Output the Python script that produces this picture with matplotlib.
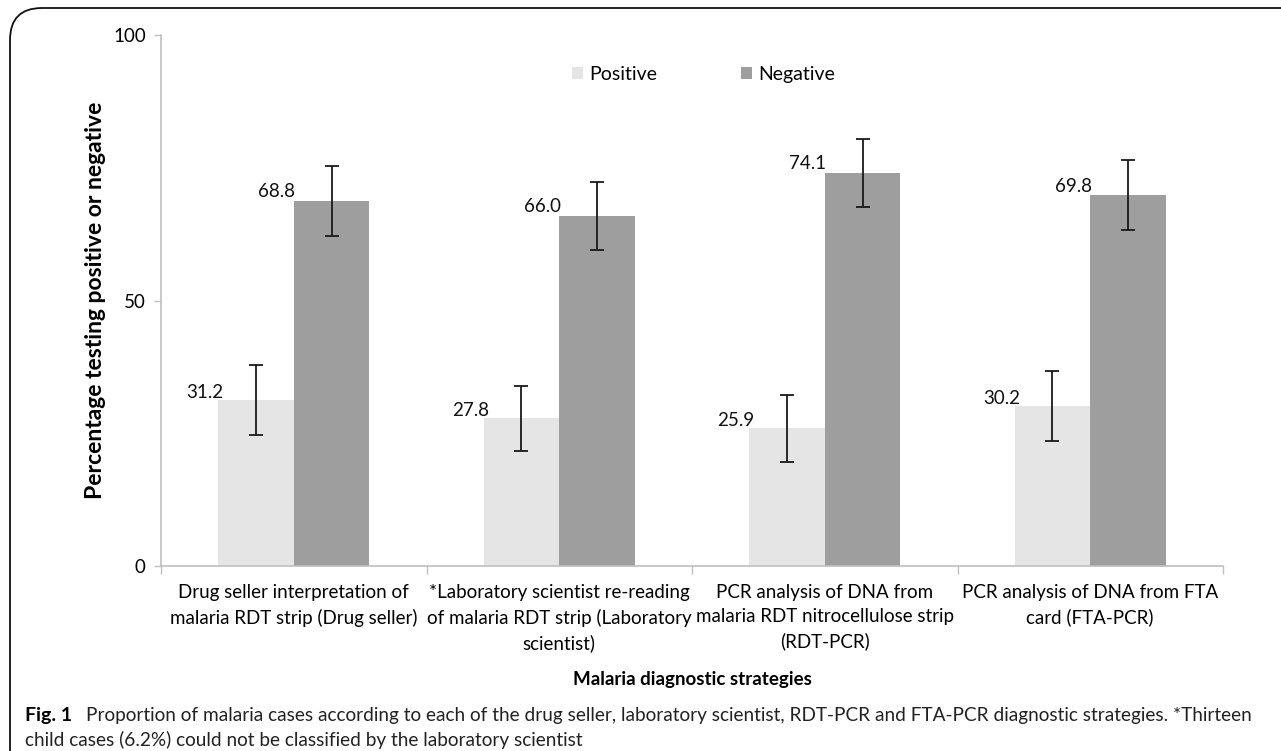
import matplotlib
matplotlib.use("Agg")
import matplotlib.pyplot as plt
import numpy as np
from matplotlib.patches import FancyBboxPatch

categories = [
    "Drug seller interpretation of\nmalaria RDT strip (Drug seller)",
    "*Laboratory scientist re-reading\nof malaria RDT strip (Laboratory\nscientist)",
    "PCR analysis of DNA from\nmalaria RDT nitrocellulose strip\n(RDT-PCR)",
    "PCR analysis of DNA from FTA\ncard (FTA-PCR)",
]
positive = [31.2, 27.8, 25.9, 30.2]
negative = [68.8, 66.0, 74.1, 69.8]
positive_err = [6.6, 6.1, 6.3, 6.6]
negative_err = [6.6, 6.4, 6.4, 6.6]
yticks = [0, 50, 100]

FONT = ["Lato", "DejaVu Sans"]
plt.rcParams["font.family"] = FONT

fig = plt.figure(figsize=(12.81, 7.51), dpi=100)
ax = fig.add_axes([161/1281, 1-566/751, (1223-161)/1281, (566-35)/751])

x = np.arange(len(categories))
w = 0.285
ekw = dict(ecolor="#1a1a1a", elinewidth=1.3, capsize=5, capthick=1.3)
ax.bar(x - w/2, positive, w, color="#e5e5e5", label="Positive",
       yerr=positive_err, error_kw=ekw)
ax.bar(x + w/2, negative, w, color="#9d9e9d", label="Negative",
       yerr=negative_err, error_kw=ekw)

for xi, v in zip(x - w/2, positive):
    ax.text(xi - w/2 + 0.02, v + 0.4, f"{v:.1f}", ha="right", va="baseline",
            fontsize=13.5, color="#111111")
for xi, v in zip(x + w/2, negative):
    ax.text(xi - w/2 + 0.005, v + 0.6, f"{v:.1f}", ha="right", va="baseline",
            fontsize=13.5, color="#111111")

ax.set_xlim(-0.5, len(categories) - 0.5)
ax.set_ylim(0, 100)
ax.set_yticks(yticks)
ax.set_yticklabels([str(t) for t in yticks], fontsize=13.5)
ax.set_xticks(np.arange(len(categories) + 1) - 0.5)
ax.set_xticklabels([])
ax.set_xticks(x, minor=True)
ax.set_xticklabels(categories, minor=True, fontsize=13.5, linespacing=1.5)
ax.tick_params(axis="x", which="minor", length=0, pad=13)
ax.tick_params(axis="x", which="major", length=6, color="#bfbfbf", width=1)
ax.tick_params(axis="y", length=5, color="#bfbfbf", width=1, pad=6)
for s in ["top", "right"]:
    ax.spines[s].set_visible(False)
for s in ["left", "bottom"]:
    ax.spines[s].set_color("#bfbfbf")
    ax.spines[s].set_linewidth(1.2)

ax.set_ylabel("Percentage testing positive or negative", fontsize=16.5,
              fontweight="bold", labelpad=5)

ax.legend(loc="upper center", bbox_to_anchor=(0.511, 0.975), ncol=2,
          frameon=False, fontsize=14, handlelength=0.55, handleheight=0.55,
          handletextpad=0.35, columnspacing=4.3)

fig.text(692/1281, 1-680/751, "Malaria diagnostic strategies", ha="center",
         va="center", fontsize=13.5, fontweight="bold")

fig.text(25/1281, 1-716/751, "Fig. 1", ha="left", va="center", fontsize=14,
         fontweight="bold")
fig.text(86/1281, 1-716/751,
         "Proportion of malaria cases according to each of the drug seller, laboratory scientist, RDT-PCR and FTA-PCR diagnostic strategies. *Thirteen",
         ha="left", va="center", fontsize=13.7, color="#222222")
fig.text(25/1281, 1-740/751,
         "child cases (6.2%) could not be classified by the laboratory scientist",
         ha="left", va="center", fontsize=13.7, color="#222222")

box = FancyBboxPatch((10/1281, -0.2), 1.2, 1 - 8/751 + 0.2,
                     boxstyle="round,pad=0,rounding_size=0.025",
                     transform=fig.transFigure, fill=False, edgecolor="#111111",
                     linewidth=1.3, mutation_aspect=1281/751)
fig.patches.append(box)

fig.savefig("out.png", dpi=100)
